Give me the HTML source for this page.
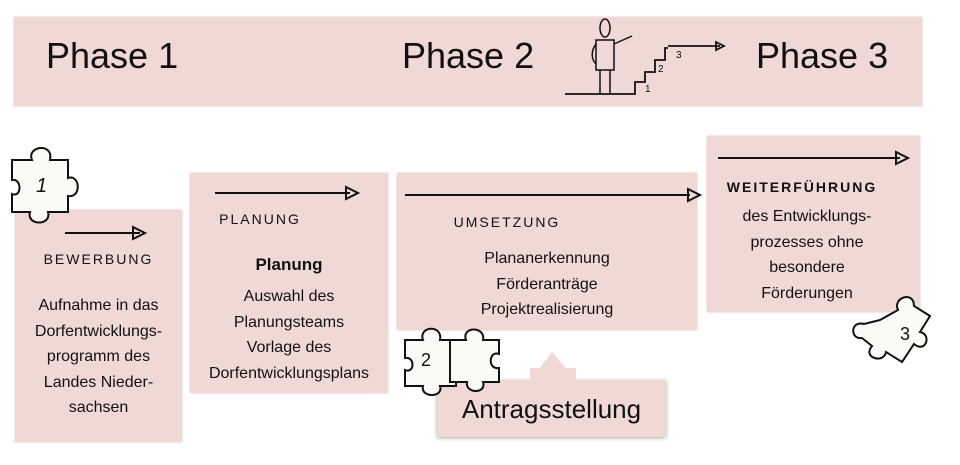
<!DOCTYPE html>
<html><head><meta charset="utf-8"><style>
body{margin:0;width:960px;height:465px;background:#fff;position:relative;overflow:hidden;font-family:"Liberation Sans",sans-serif;}
.b{position:absolute;background:#f0d9d4;box-shadow:0 0 2px #d8c0bb;}
.t{position:absolute;text-align:center;font-size:16px;line-height:25.5px;color:#111;}
.h{position:absolute;text-align:center;font-family:"Liberation Sans",sans-serif;font-size:14px;letter-spacing:2px;color:#111;}
.p{position:absolute;font-size:36px;color:#111;top:35px;}
svg{position:absolute;left:0;top:0}
</style></head><body>
<div class="b" style="left:14px;top:17px;width:908px;height:89px"></div>
<div class="p" style="left:46px">Phase 1</div>
<div class="p" style="left:402px">Phase 2</div>
<div class="p" style="left:756px">Phase 3</div>

<div class="b" style="left:15px;top:210px;width:167px;height:232px"></div>
<div class="b" style="left:190px;top:173px;width:198px;height:220px"></div>
<div class="b" style="left:397px;top:173px;width:300px;height:157px"></div>
<div class="b" style="left:707px;top:136px;width:213px;height:176px"></div>
<div class="b" style="left:437px;top:380px;width:229px;height:57px;box-shadow:0 1px 4px #aaa"></div>
<div style="position:absolute;left:437px;top:394px;width:229px;text-align:center;font-size:26px;color:#111">Antragsstellung</div>

<div class="h" style="left:15px;width:167px;top:251px">BEWERBUNG</div>
<div class="t" style="left:15px;width:167px;top:293px">Aufnahme in das<br>Dorfentwicklungs-<br>programm des<br>Landes Nieder-<br>sachsen</div>
<div class="h" style="left:190px;width:140px;top:211px">PLANUNG</div>
<div class="t" style="left:190px;width:198px;top:252px;font-weight:bold;font-size:17px">Planung</div>
<div class="t" style="left:190px;width:198px;top:284px">Auswahl des<br>Planungsteams<br>Vorlage des<br>Dorfentwicklungsplans</div>
<div class="h" style="left:397px;width:220px;top:214px">UMSETZUNG</div>
<div class="t" style="left:397px;width:300px;top:246px">Plananerkennung<br>Förderanträge<br>Projektrealisierung</div>
<div class="h" style="left:707px;width:190px;top:179px;font-weight:bold">WEITERFÜHRUNG</div>
<div class="t" style="left:707px;width:200px;top:204px">des Entwicklungs-<br>prozesses ohne<br>besondere<br>Förderungen</div>

<svg width="960" height="465" fill="none" stroke="#111" stroke-width="2">
<path d="M65 233H140M133 227l12 6-12 6z"/>
<path d="M215 193H350M346 187l12 6-12 6z"/>
<path d="M405 195H690M688 189l12 6-12 6z"/>
<path d="M718 158H900M896 152l12 6-12 6z"/>
<path d="M530 380V368H540L552 352L566 368H576V380" fill="#f0d9d4" stroke="none"/>
<path d="M565 94H635V82H645V72H655V60H665V48H668M668 46H720M716 42l8 4-8 4z" stroke-width="1.8"/>
<ellipse cx="605" cy="28" rx="5" ry="9" stroke-width="1.5"/>
<path d="M596 40h18v30h-18z M600 70v24M610 70v24M614 44l18-8M596 44c-6 8-4 16 0 20" stroke-width="1.5"/>
<g font-size="10" fill="#111" stroke="none" font-family="Liberation Sans"><text x="645" y="92">1</text><text x="658" y="72">2</text><text x="676" y="58">3</text></g>
<path d="M12 160h20c-6-14 22-18 18 0h18v18c12-4 14 20 0 18v16h-20c4 14-22 14-18 0h-18v-18c10 4 10-16 0-14z" fill="#fafaf6" stroke-width="2"/>
<text x="36" y="192" font-size="20" fill="#111" stroke="none" font-style="italic">1</text>
<path d="M405 340h18c-5-14 20-16 17 0h16v16c10-4 12 18 0 16v14h-16c4 12-20 12-17 0h-18v-16c10 4 10-14 0-12z" fill="#fafaf6"/>
<path d="M450 340h16c-5-14 20-14 17 0h16v14c-10-4-12 16 0 14v14h-16c4 12-18 12-16 0h-17z" fill="#fafaf6"/>
<text x="421" y="366" font-size="18" fill="#111" stroke="none">2</text>
<path d="M880 320l18-10c-6-12 16-20 16-4l16 10-10 16c12 2 6 22-6 12l-12 18-16-10c-2 12-24 6-14-6l-10-8c-12 2-12-18 2-14z" fill="#fafaf6"/>
<text x="900" y="340" font-size="18" fill="#111" stroke="none">3</text>
</svg>
</body></html>
